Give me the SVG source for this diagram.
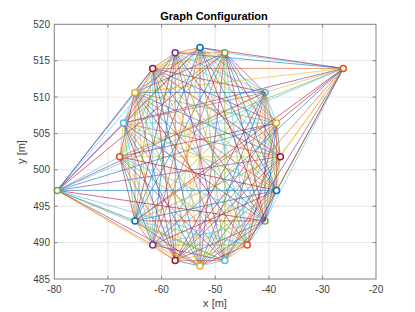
<svg xmlns="http://www.w3.org/2000/svg" width="415" height="312" viewBox="0 0 415 312">
<style>
text{font-family:"Liberation Sans",Arial,sans-serif;fill:#404040}
.tk{font-size:10px}
.grid line{stroke:#e6e6e6;stroke-width:1}
.tick line{stroke:#808080;stroke-width:1}
#edges line{stroke-width:0.6;fill:none}
.c1{stroke:#0072BD}.c2{stroke:#D95319}.c3{stroke:#EDB120}.c4{stroke:#7E2F8E}.c5{stroke:#77AC30}.c6{stroke:#4DBEEE}.c7{stroke:#A2142F}
.m{fill:#fff;stroke-width:1.5}
</style>
<rect width="415" height="312" fill="#fff"/>
<g class="grid">
<line x1="107.9" y1="24.3" x2="107.9" y2="279"/><line x1="161.6" y1="24.3" x2="161.6" y2="279"/><line x1="215.2" y1="24.3" x2="215.2" y2="279"/><line x1="268.9" y1="24.3" x2="268.9" y2="279"/><line x1="322.6" y1="24.3" x2="322.6" y2="279"/>
<line x1="54.3" y1="60.7" x2="376" y2="60.7"/><line x1="54.3" y1="97.1" x2="376" y2="97.1"/><line x1="54.3" y1="133.5" x2="376" y2="133.5"/><line x1="54.3" y1="169.8" x2="376" y2="169.8"/><line x1="54.3" y1="206.2" x2="376" y2="206.2"/><line x1="54.3" y1="242.6" x2="376" y2="242.6"/>
</g>
<g id="node-2-under"><circle class="m c6" cx="265" cy="92.5" r="3"/></g>
<g id="node-18-under"><circle class="m c5" cx="265" cy="220.9" r="3"/></g>
<g id="edges">
<line class="c1" x1="280.4" y1="156.7" x2="276.5" y2="123"/>
<line class="c2" x1="280.4" y1="156.7" x2="265" y2="92.5"/>
<line class="c3" x1="280.4" y1="156.7" x2="343.3" y2="68.4"/>
<line class="c4" x1="280.4" y1="156.7" x2="224.8" y2="52.8"/>
<line class="c5" x1="280.4" y1="156.7" x2="200" y2="47.5"/>
<line class="c6" x1="280.4" y1="156.7" x2="175.2" y2="52.8"/>
<line class="c7" x1="280.4" y1="156.7" x2="152.7" y2="68.4"/>
<line class="c1" x1="280.4" y1="156.7" x2="135" y2="92.5"/>
<line class="c2" x1="280.4" y1="156.7" x2="123.5" y2="123"/>
<line class="c3" x1="280.4" y1="156.7" x2="119.6" y2="156.7"/>
<line class="c4" x1="280.4" y1="156.7" x2="57.3" y2="190.4"/>
<line class="c5" x1="280.4" y1="156.7" x2="135" y2="220.9"/>
<line class="c6" x1="280.4" y1="156.7" x2="152.7" y2="245"/>
<line class="c7" x1="280.4" y1="156.7" x2="175.2" y2="260.6"/>
<line class="c1" x1="280.4" y1="156.7" x2="200" y2="265.9"/>
<line class="c2" x1="280.4" y1="156.7" x2="224.8" y2="260.6"/>
<line class="c3" x1="280.4" y1="156.7" x2="247.3" y2="245"/>
<line class="c4" x1="280.4" y1="156.7" x2="265" y2="220.9"/>
<line class="c5" x1="280.4" y1="156.7" x2="276.5" y2="190.4"/>
<line class="c6" x1="276.5" y1="123" x2="265" y2="92.5"/>
<line class="c7" x1="276.5" y1="123" x2="343.3" y2="68.4"/>
<line class="c1" x1="276.5" y1="123" x2="224.8" y2="52.8"/>
<line class="c2" x1="276.5" y1="123" x2="200" y2="47.5"/>
<line class="c3" x1="276.5" y1="123" x2="175.2" y2="52.8"/>
<line class="c4" x1="276.5" y1="123" x2="152.7" y2="68.4"/>
<line class="c5" x1="276.5" y1="123" x2="135" y2="92.5"/>
<line class="c6" x1="276.5" y1="123" x2="123.5" y2="123"/>
<line class="c7" x1="276.5" y1="123" x2="119.6" y2="156.7"/>
<line class="c1" x1="276.5" y1="123" x2="57.3" y2="190.4"/>
<line class="c2" x1="276.5" y1="123" x2="135" y2="220.9"/>
<line class="c3" x1="276.5" y1="123" x2="152.7" y2="245"/>
<line class="c4" x1="276.5" y1="123" x2="175.2" y2="260.6"/>
<line class="c5" x1="276.5" y1="123" x2="200" y2="265.9"/>
<line class="c6" x1="276.5" y1="123" x2="224.8" y2="260.6"/>
<line class="c7" x1="276.5" y1="123" x2="247.3" y2="245"/>
<line class="c1" x1="276.5" y1="123" x2="265" y2="220.9"/>
<line class="c2" x1="276.5" y1="123" x2="276.5" y2="190.4"/>
<line class="c3" x1="265" y1="92.5" x2="343.3" y2="68.4"/>
<line class="c4" x1="265" y1="92.5" x2="224.8" y2="52.8"/>
<line class="c5" x1="265" y1="92.5" x2="200" y2="47.5"/>
<line class="c6" x1="265" y1="92.5" x2="175.2" y2="52.8"/>
<line class="c7" x1="265" y1="92.5" x2="152.7" y2="68.4"/>
<line class="c1" x1="265" y1="92.5" x2="135" y2="92.5"/>
<line class="c2" x1="265" y1="92.5" x2="123.5" y2="123"/>
<line class="c3" x1="265" y1="92.5" x2="119.6" y2="156.7"/>
<line class="c4" x1="265" y1="92.5" x2="57.3" y2="190.4"/>
<line class="c5" x1="265" y1="92.5" x2="135" y2="220.9"/>
<line class="c6" x1="265" y1="92.5" x2="152.7" y2="245"/>
<line class="c7" x1="265" y1="92.5" x2="175.2" y2="260.6"/>
<line class="c1" x1="265" y1="92.5" x2="200" y2="265.9"/>
<line class="c2" x1="265" y1="92.5" x2="224.8" y2="260.6"/>
<line class="c3" x1="265" y1="92.5" x2="247.3" y2="245"/>
<line class="c4" x1="265" y1="92.5" x2="265" y2="220.9"/>
<line class="c5" x1="265" y1="92.5" x2="276.5" y2="190.4"/>
<line class="c6" x1="343.3" y1="68.4" x2="224.8" y2="52.8"/>
<line class="c7" x1="343.3" y1="68.4" x2="200" y2="47.5"/>
<line class="c1" x1="343.3" y1="68.4" x2="175.2" y2="52.8"/>
<line class="c2" x1="343.3" y1="68.4" x2="152.7" y2="68.4"/>
<line class="c3" x1="343.3" y1="68.4" x2="135" y2="92.5"/>
<line class="c4" x1="343.3" y1="68.4" x2="123.5" y2="123"/>
<line class="c5" x1="343.3" y1="68.4" x2="119.6" y2="156.7"/>
<line class="c6" x1="343.3" y1="68.4" x2="57.3" y2="190.4"/>
<line class="c7" x1="343.3" y1="68.4" x2="135" y2="220.9"/>
<line class="c1" x1="343.3" y1="68.4" x2="152.7" y2="245"/>
<line class="c2" x1="343.3" y1="68.4" x2="175.2" y2="260.6"/>
<line class="c3" x1="343.3" y1="68.4" x2="200" y2="265.9"/>
<line class="c4" x1="343.3" y1="68.4" x2="224.8" y2="260.6"/>
<line class="c5" x1="343.3" y1="68.4" x2="247.3" y2="245"/>
<line class="c6" x1="343.3" y1="68.4" x2="265" y2="220.9"/>
<line class="c7" x1="343.3" y1="68.4" x2="276.5" y2="190.4"/>
<line class="c1" x1="224.8" y1="52.8" x2="200" y2="47.5"/>
<line class="c2" x1="224.8" y1="52.8" x2="175.2" y2="52.8"/>
<line class="c3" x1="224.8" y1="52.8" x2="152.7" y2="68.4"/>
<line class="c4" x1="224.8" y1="52.8" x2="135" y2="92.5"/>
<line class="c5" x1="224.8" y1="52.8" x2="123.5" y2="123"/>
<line class="c6" x1="224.8" y1="52.8" x2="119.6" y2="156.7"/>
<line class="c7" x1="224.8" y1="52.8" x2="57.3" y2="190.4"/>
<line class="c1" x1="224.8" y1="52.8" x2="135" y2="220.9"/>
<line class="c2" x1="224.8" y1="52.8" x2="152.7" y2="245"/>
<line class="c3" x1="224.8" y1="52.8" x2="175.2" y2="260.6"/>
<line class="c4" x1="224.8" y1="52.8" x2="200" y2="265.9"/>
<line class="c5" x1="224.8" y1="52.8" x2="224.8" y2="260.6"/>
<line class="c6" x1="224.8" y1="52.8" x2="247.3" y2="245"/>
<line class="c7" x1="224.8" y1="52.8" x2="265" y2="220.9"/>
<line class="c1" x1="224.8" y1="52.8" x2="276.5" y2="190.4"/>
<line class="c2" x1="200" y1="47.5" x2="175.2" y2="52.8"/>
<line class="c3" x1="200" y1="47.5" x2="152.7" y2="68.4"/>
<line class="c4" x1="200" y1="47.5" x2="135" y2="92.5"/>
<line class="c5" x1="200" y1="47.5" x2="123.5" y2="123"/>
<line class="c6" x1="200" y1="47.5" x2="119.6" y2="156.7"/>
<line class="c7" x1="200" y1="47.5" x2="57.3" y2="190.4"/>
<line class="c1" x1="200" y1="47.5" x2="135" y2="220.9"/>
<line class="c2" x1="200" y1="47.5" x2="152.7" y2="245"/>
<line class="c3" x1="200" y1="47.5" x2="175.2" y2="260.6"/>
<line class="c4" x1="200" y1="47.5" x2="200" y2="265.9"/>
<line class="c5" x1="200" y1="47.5" x2="224.8" y2="260.6"/>
<line class="c6" x1="200" y1="47.5" x2="247.3" y2="245"/>
<line class="c7" x1="200" y1="47.5" x2="265" y2="220.9"/>
<line class="c1" x1="200" y1="47.5" x2="276.5" y2="190.4"/>
<line class="c2" x1="175.2" y1="52.8" x2="152.7" y2="68.4"/>
<line class="c3" x1="175.2" y1="52.8" x2="135" y2="92.5"/>
<line class="c4" x1="175.2" y1="52.8" x2="123.5" y2="123"/>
<line class="c5" x1="175.2" y1="52.8" x2="119.6" y2="156.7"/>
<line class="c6" x1="175.2" y1="52.8" x2="57.3" y2="190.4"/>
<line class="c7" x1="175.2" y1="52.8" x2="135" y2="220.9"/>
<line class="c1" x1="175.2" y1="52.8" x2="152.7" y2="245"/>
<line class="c2" x1="175.2" y1="52.8" x2="175.2" y2="260.6"/>
<line class="c3" x1="175.2" y1="52.8" x2="200" y2="265.9"/>
<line class="c4" x1="175.2" y1="52.8" x2="224.8" y2="260.6"/>
<line class="c5" x1="175.2" y1="52.8" x2="247.3" y2="245"/>
<line class="c6" x1="175.2" y1="52.8" x2="265" y2="220.9"/>
<line class="c7" x1="175.2" y1="52.8" x2="276.5" y2="190.4"/>
<line class="c1" x1="152.7" y1="68.4" x2="135" y2="92.5"/>
<line class="c2" x1="152.7" y1="68.4" x2="123.5" y2="123"/>
<line class="c3" x1="152.7" y1="68.4" x2="119.6" y2="156.7"/>
<line class="c4" x1="152.7" y1="68.4" x2="57.3" y2="190.4"/>
<line class="c5" x1="152.7" y1="68.4" x2="135" y2="220.9"/>
<line class="c6" x1="152.7" y1="68.4" x2="152.7" y2="245"/>
<line class="c7" x1="152.7" y1="68.4" x2="175.2" y2="260.6"/>
<line class="c1" x1="152.7" y1="68.4" x2="200" y2="265.9"/>
<line class="c2" x1="152.7" y1="68.4" x2="224.8" y2="260.6"/>
<line class="c3" x1="152.7" y1="68.4" x2="247.3" y2="245"/>
<line class="c4" x1="152.7" y1="68.4" x2="265" y2="220.9"/>
<line class="c5" x1="152.7" y1="68.4" x2="276.5" y2="190.4"/>
<line class="c6" x1="135" y1="92.5" x2="123.5" y2="123"/>
<line class="c7" x1="135" y1="92.5" x2="119.6" y2="156.7"/>
<line class="c1" x1="135" y1="92.5" x2="57.3" y2="190.4"/>
<line class="c2" x1="135" y1="92.5" x2="135" y2="220.9"/>
<line class="c3" x1="135" y1="92.5" x2="152.7" y2="245"/>
<line class="c4" x1="135" y1="92.5" x2="175.2" y2="260.6"/>
<line class="c5" x1="135" y1="92.5" x2="200" y2="265.9"/>
<line class="c6" x1="135" y1="92.5" x2="224.8" y2="260.6"/>
<line class="c7" x1="135" y1="92.5" x2="247.3" y2="245"/>
<line class="c1" x1="135" y1="92.5" x2="265" y2="220.9"/>
<line class="c2" x1="135" y1="92.5" x2="276.5" y2="190.4"/>
<line class="c3" x1="123.5" y1="123" x2="119.6" y2="156.7"/>
<line class="c4" x1="123.5" y1="123" x2="57.3" y2="190.4"/>
<line class="c5" x1="123.5" y1="123" x2="135" y2="220.9"/>
<line class="c6" x1="123.5" y1="123" x2="152.7" y2="245"/>
<line class="c7" x1="123.5" y1="123" x2="175.2" y2="260.6"/>
<line class="c1" x1="123.5" y1="123" x2="200" y2="265.9"/>
<line class="c2" x1="123.5" y1="123" x2="224.8" y2="260.6"/>
<line class="c3" x1="123.5" y1="123" x2="247.3" y2="245"/>
<line class="c4" x1="123.5" y1="123" x2="265" y2="220.9"/>
<line class="c5" x1="123.5" y1="123" x2="276.5" y2="190.4"/>
<line class="c6" x1="119.6" y1="156.7" x2="57.3" y2="190.4"/>
<line class="c7" x1="119.6" y1="156.7" x2="135" y2="220.9"/>
<line class="c1" x1="119.6" y1="156.7" x2="152.7" y2="245"/>
<line class="c2" x1="119.6" y1="156.7" x2="175.2" y2="260.6"/>
<line class="c3" x1="119.6" y1="156.7" x2="200" y2="265.9"/>
<line class="c4" x1="119.6" y1="156.7" x2="224.8" y2="260.6"/>
<line class="c5" x1="119.6" y1="156.7" x2="247.3" y2="245"/>
<line class="c6" x1="119.6" y1="156.7" x2="265" y2="220.9"/>
<line class="c7" x1="119.6" y1="156.7" x2="276.5" y2="190.4"/>
<line class="c1" x1="57.3" y1="190.4" x2="135" y2="220.9"/>
<line class="c2" x1="57.3" y1="190.4" x2="152.7" y2="245"/>
<line class="c3" x1="57.3" y1="190.4" x2="175.2" y2="260.6"/>
<line class="c4" x1="57.3" y1="190.4" x2="200" y2="265.9"/>
<line class="c5" x1="57.3" y1="190.4" x2="224.8" y2="260.6"/>
<line class="c6" x1="57.3" y1="190.4" x2="247.3" y2="245"/>
<line class="c7" x1="57.3" y1="190.4" x2="265" y2="220.9"/>
<line class="c1" x1="57.3" y1="190.4" x2="276.5" y2="190.4"/>
<line class="c2" x1="135" y1="220.9" x2="152.7" y2="245"/>
<line class="c3" x1="135" y1="220.9" x2="175.2" y2="260.6"/>
<line class="c4" x1="135" y1="220.9" x2="200" y2="265.9"/>
<line class="c5" x1="135" y1="220.9" x2="224.8" y2="260.6"/>
<line class="c6" x1="135" y1="220.9" x2="247.3" y2="245"/>
<line class="c7" x1="135" y1="220.9" x2="265" y2="220.9"/>
<line class="c1" x1="135" y1="220.9" x2="276.5" y2="190.4"/>
<line class="c2" x1="152.7" y1="245" x2="175.2" y2="260.6"/>
<line class="c3" x1="152.7" y1="245" x2="200" y2="265.9"/>
<line class="c4" x1="152.7" y1="245" x2="224.8" y2="260.6"/>
<line class="c5" x1="152.7" y1="245" x2="247.3" y2="245"/>
<line class="c6" x1="152.7" y1="245" x2="265" y2="220.9"/>
<line class="c7" x1="152.7" y1="245" x2="276.5" y2="190.4"/>
<line class="c1" x1="175.2" y1="260.6" x2="200" y2="265.9"/>
<line class="c2" x1="175.2" y1="260.6" x2="224.8" y2="260.6"/>
<line class="c3" x1="175.2" y1="260.6" x2="247.3" y2="245"/>
<line class="c4" x1="175.2" y1="260.6" x2="265" y2="220.9"/>
<line class="c5" x1="175.2" y1="260.6" x2="276.5" y2="190.4"/>
<line class="c6" x1="200" y1="265.9" x2="224.8" y2="260.6"/>
<line class="c7" x1="200" y1="265.9" x2="247.3" y2="245"/>
<line class="c1" x1="200" y1="265.9" x2="265" y2="220.9"/>
<line class="c2" x1="200" y1="265.9" x2="276.5" y2="190.4"/>
<line class="c3" x1="224.8" y1="260.6" x2="247.3" y2="245"/>
<line class="c4" x1="224.8" y1="260.6" x2="265" y2="220.9"/>
<line class="c5" x1="224.8" y1="260.6" x2="276.5" y2="190.4"/>
<line class="c6" x1="247.3" y1="245" x2="265" y2="220.9"/>
<line class="c7" x1="247.3" y1="245" x2="276.5" y2="190.4"/>
<line class="c1" x1="265" y1="220.9" x2="276.5" y2="190.4"/>
</g>
<g id="node-0"><circle class="m c7" cx="280.4" cy="156.7" r="3"/></g>
<g id="node-1"><circle class="m c3" cx="276.5" cy="123" r="3"/></g>
<g id="node-3"><circle class="m c2" cx="343.3" cy="68.4" r="3"/></g>
<g id="node-4"><circle class="m c5" cx="224.8" cy="52.8" r="3"/></g>
<g id="node-5"><circle class="m c1" cx="200" cy="47.5" r="3"/></g>
<g id="node-6"><circle class="m c4" cx="175.2" cy="52.8" r="3"/></g>
<g id="node-7"><circle class="m c7" cx="152.7" cy="68.4" r="3"/></g>
<g id="node-8"><circle class="m c3" cx="135" cy="92.5" r="3"/></g>
<g id="node-9"><circle class="m c6" cx="123.5" cy="123" r="3"/></g>
<g id="node-10"><circle class="m c2" cx="119.6" cy="156.7" r="3"/></g>
<g id="node-11"><circle class="m c5" cx="57.3" cy="190.4" r="3"/></g>
<g id="node-12"><circle class="m c1" cx="135" cy="220.9" r="3"/></g>
<g id="node-13"><circle class="m c4" cx="152.7" cy="245" r="3"/></g>
<g id="node-14"><circle class="m c7" cx="175.2" cy="260.6" r="3"/></g>
<g id="node-15"><circle class="m c3" cx="200" cy="265.9" r="3"/></g>
<g id="node-16"><circle class="m c6" cx="224.8" cy="260.6" r="3"/></g>
<g id="node-17"><circle class="m c2" cx="247.3" cy="245" r="3"/></g>
<g id="node-19"><circle class="m c1" cx="276.5" cy="190.4" r="3"/></g>
<g class="tick">
<rect x="54.3" y="24.3" width="321.7" height="254.7" fill="none" stroke="#808080" stroke-width="1"/>
<line x1="107.9" y1="279" x2="107.9" y2="275.8"/><line x1="161.6" y1="279" x2="161.6" y2="275.8"/><line x1="215.2" y1="279" x2="215.2" y2="275.8"/><line x1="268.9" y1="279" x2="268.9" y2="275.8"/><line x1="322.6" y1="279" x2="322.6" y2="275.8"/>
<line x1="107.9" y1="24.3" x2="107.9" y2="27.5"/><line x1="161.6" y1="24.3" x2="161.6" y2="27.5"/><line x1="215.2" y1="24.3" x2="215.2" y2="27.5"/><line x1="268.9" y1="24.3" x2="268.9" y2="27.5"/><line x1="322.6" y1="24.3" x2="322.6" y2="27.5"/>
<line x1="54.3" y1="60.7" x2="57.5" y2="60.7"/><line x1="54.3" y1="97.1" x2="57.5" y2="97.1"/><line x1="54.3" y1="133.5" x2="57.5" y2="133.5"/><line x1="54.3" y1="169.8" x2="57.5" y2="169.8"/><line x1="54.3" y1="206.2" x2="57.5" y2="206.2"/><line x1="54.3" y1="242.6" x2="57.5" y2="242.6"/>
<line x1="376" y1="60.7" x2="372.8" y2="60.7"/><line x1="376" y1="97.1" x2="372.8" y2="97.1"/><line x1="376" y1="133.5" x2="372.8" y2="133.5"/><line x1="376" y1="169.8" x2="372.8" y2="169.8"/><line x1="376" y1="206.2" x2="372.8" y2="206.2"/><line x1="376" y1="242.6" x2="372.8" y2="242.6"/>
</g>
<g class="tk" text-anchor="middle">
<text x="54.3" y="293">-80</text><text x="107.9" y="293">-70</text><text x="161.6" y="293">-60</text><text x="215.2" y="293">-50</text><text x="268.9" y="293">-40</text><text x="322.6" y="293">-30</text><text x="376" y="293">-20</text>
</g>
<g class="tk" text-anchor="end">
<text x="50" y="27.8">520</text><text x="50" y="64.2">515</text><text x="50" y="100.6">510</text><text x="50" y="137">505</text><text x="50" y="173.3">500</text><text x="50" y="209.7">495</text><text x="50" y="246.1">490</text><text x="50" y="282.5">485</text>
</g>
<text x="215" y="307" text-anchor="middle" font-size="11">x [m]</text>
<text transform="translate(25,152) rotate(-90)" text-anchor="middle" font-size="11">y [m]</text>
<text x="214" y="19.5" text-anchor="middle" font-size="11" font-weight="bold" style="fill:#000">Graph Configuration</text>
</svg>
